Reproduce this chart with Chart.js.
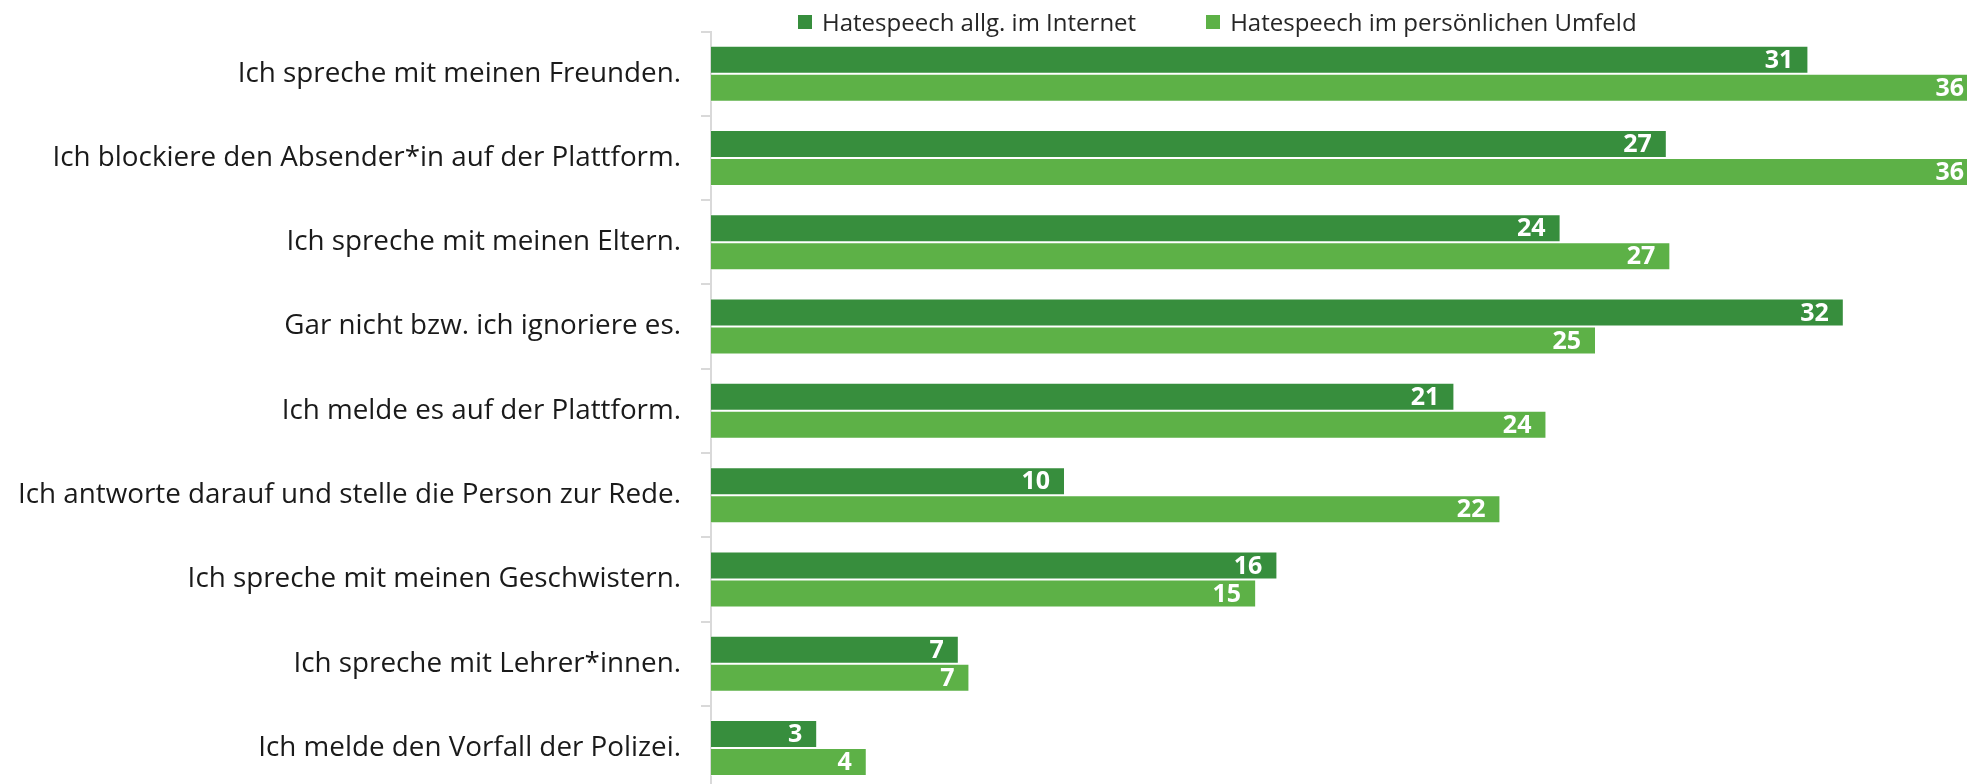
<!DOCTYPE html>
<html lang="de">
<head>
<meta charset="utf-8">
<title>Reaktionen auf Hatespeech</title>
<script src="https://cdn.jsdelivr.net/npm/chart.js@4.4.1/dist/chart.umd.min.js"></script>
<style>
  html, body { margin: 0; padding: 0; background: #fff; overflow: hidden; }
  .wrap { position: relative; width: 1967px; height: 784px; overflow: hidden; }
  canvas { position: absolute; left: 0; top: 0; }
  .legend {
    position: absolute; left: 798px; top: 5px;
    display: flex; align-items: center;
    font-family: "Open Sans", Lato, sans-serif; font-size: 24px; color: #262626;
  }
  .legend-item { display: flex; align-items: center; margin-right: 70px; }
  .legend-swatch { width: 14px; height: 14px; margin-right: 10px; }
</style>
</head>
<body>
<div class="wrap">
  <canvas id="chart" width="1967" height="792"></canvas>
  <div class="legend" id="legend"></div>
</div>
<script>
const categories = [
  "Ich spreche mit meinen Freunden.",
  "Ich blockiere den Absender*in auf der Plattform.",
  "Ich spreche mit meinen Eltern.",
  "Gar nicht bzw. ich ignoriere es.",
  "Ich melde es auf der Plattform.",
  "Ich antworte darauf und stelle die Person zur Rede.",
  "Ich spreche mit meinen Geschwistern.",
  "Ich spreche mit Lehrer*innen.",
  "Ich melde den Vorfall der Polizei."
];
const seriesNames = ["Hatespeech allg. im Internet", "Hatespeech im persönlichen Umfeld"];
const internetValues = [31, 27, 24, 32, 21, 10, 16, 7, 3];
const personalValues = [36, 36, 27.1, 25, 23.6, 22.3, 15.4, 7.3, 4.4];
const colors = ["#378E3D", "#5DB147"];

// white numbers at the inner end of every bar
const barLabels = {
  id: "barLabels",
  afterDatasetsDraw(chart) {
    const ctx = chart.ctx;
    const area = chart.chartArea;
    ctx.save();
    ctx.font = "bold 25px 'Open Sans', Lato, sans-serif";
    ctx.fillStyle = "#fff";
    ctx.textAlign = "right";
    ctx.textBaseline = "middle";
    chart.data.datasets.forEach((ds, i) => {
      chart.getDatasetMeta(i).data.forEach((bar, j) => {
        const x = Math.min(bar.x - 15, area.right - 3);
        ctx.fillText(String(Math.round(ds.data[j])), x, bar.y + 1);
      });
    });
    ctx.restore();
  }
};

const legendEl = document.getElementById("legend");
seriesNames.forEach((name, i) => {
  const item = document.createElement("div");
  item.className = "legend-item";
  item.innerHTML = '<span class="legend-swatch" style="background:' + colors[i] + '"></span><span>' + name + "</span>";
  legendEl.appendChild(item);
});

new Chart(document.getElementById("chart"), {
  type: "bar",
  data: {
    labels: categories,
    datasets: [
      {
        label: seriesNames[0],
        data: internetValues,
        backgroundColor: colors[0],
        borderColor: "rgba(255,255,255,0.55)",
        borderWidth: 1,
        categoryPercentage: 0.664,
        barPercentage: 1.0
      },
      {
        label: seriesNames[1],
        data: personalValues,
        backgroundColor: colors[1],
        borderColor: "rgba(255,255,255,0.55)",
        borderWidth: 1,
        categoryPercentage: 0.664,
        barPercentage: 1.0
      }
    ]
  },
  options: {
    indexAxis: "y",
    responsive: false,
    animation: false,
    layout: { padding: { top: 31.5, bottom: 1.8, left: 0, right: 0 } },
    plugins: {
      legend: { display: false },
      tooltip: { enabled: false }
    },
    scales: {
      x: { display: false, min: 0, max: 35.48 },
      y: {
        afterFit(scale) {
          scale.width = 711;
          // labels sit at band centres, no extra room needed above/below
          scale.paddingTop = 0;
          scale.paddingBottom = 0;
        },
        grid: {
          offset: true,
          drawOnChartArea: false,
          drawTicks: true,
          tickLength: 10,
          color: "#D9D9D9",
          lineWidth: 2
        },
        border: { display: true, color: "#D9D9D9", width: 2 },
        ticks: {
          padding: 20,
          color: "#1a1a1a",
          font: { family: "'Open Sans', Lato, sans-serif", size: 27.8 }
        }
      }
    }
  },
  plugins: [barLabels]
});
</script>
</body>
</html>
